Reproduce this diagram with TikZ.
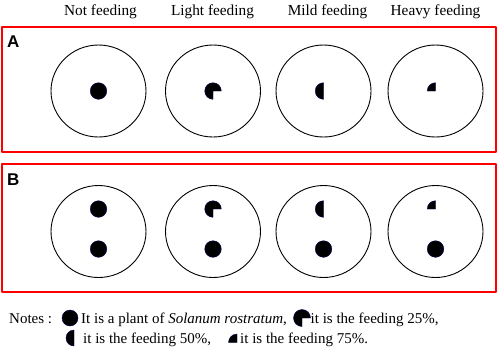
\documentclass[tikz,border=0pt]{standalone}
\usepackage{fontspec}
\setmainfont{Liberation Serif}
\newfontfamily\tagfont{Liberation Sans}
\usetikzlibrary{positioning,shapes.geometric}

\tikzset{
  panel/.style={draw=red, line width=1.2pt},
  dish/.style={ellipse, draw, line width=0.9pt, minimum width=95pt, minimum height=92pt, inner sep=0pt},
  plant/.style={fill=black, draw=blue!35!black, line width=0.4pt},
  head/.style={font=\fontsize{15.3}{18}\selectfont, anchor=base, inner sep=0pt},
  tag/.style={font=\tagfont\bfseries\fontsize{17}{20}\selectfont, anchor=base west, inner sep=0pt},
  note/.style={font=\fontsize{15}{18}\selectfont, anchor=base west, inner sep=0pt},
}

% #1 radius, #2 centre, #3/#4 start/end angle of the part still standing
% (angles negated because the y axis points down)
\newcommand{\feedpie}[4][8.3]{%
  \filldraw[plant] #2 -- ++(-#3:#1) arc[start angle=-#3, end angle=-#4, radius=#1] -- cycle;}

\begin{document}
\begin{tikzpicture}[x=1pt, y=-1pt, line join=round]

  %% ════ column heads ════
  \node[head] (hNot)   at (100.5,15) {Not feeding};
  \node[head] (hLight) at (212.5,15) {Light feeding};
  \node[head] (hMild)  at (327.5,15) {Mild feeding};
  \node[head] (hHeavy) at (435.5,15) {Heavy feeding};

  %% ════ panel frames ════
  \draw[panel] (2,27) rectangle (496,152);
  \draw[panel] (2,164) rectangle (496,292);
  \node[tag] (tagA) at (7,47) {A};
  \node[tag] (tagB) at (7,185) {B};

  %% ════ panel A: one plant per dish ════
  \node[dish] (dA1) at (98.5,91) {};
  \node[dish] (dA2) at (213,91) {};
  \node[dish] (dA3) at (323.5,91) {};
  \node[dish] (dA4) at (435.5,91) {};

  \feedpie{(dA1.center)}{0}{360}
  \feedpie{(dA2.center)}{0}{270}
  \feedpie{(dA3.center)}{90}{270}
  \feedpie{(dA4.center)}{90}{180}

  %% ════ panel B: two plants per dish ════
  \node[dish] (dB1) at (98.5,231.5) {};
  \node[dish] (dB2) at (213,231.5) {};
  \node[dish] (dB3) at (323.5,231.5) {};
  \node[dish] (dB4) at (435.5,231.5) {};

  \feedpie{([yshift=22.5pt]dB1.center)}{0}{360}
  \feedpie{([yshift=22.5pt]dB2.center)}{0}{270}
  \feedpie{([yshift=22.5pt]dB3.center)}{90}{270}
  \feedpie{([yshift=22.5pt]dB4.center)}{90}{180}

  % lower plant stays whole
  \feedpie{([yshift=-17.5pt]dB1.center)}{0}{360}
  \feedpie{([yshift=-17.5pt]dB2.center)}{0}{360}
  \feedpie{([yshift=-17.5pt]dB3.center)}{0}{360}
  \feedpie{([yshift=-17.5pt]dB4.center)}{0}{360}

  %% ════ notes ════
  \node[note] (nNotes) at (9,323) {Notes :};
  \feedpie[8]{(70,318)}{0}{360}
  \node[note] (nPlant) at (81,323) {It is a plant of \textit{Solanum rostratum},};
  \feedpie[8.5]{(302,318)}{0}{270}
  \node[note] (nLight) at (310.5,323) {it is the feeding 25\%,};

  \feedpie[8]{(74,338)}{90}{270}
  \node[note] (nMild) at (83,343) {it is the feeding 50\%,};
  \feedpie[8.5]{(237,342.5)}{90}{180}
  \node[note] (nHeavy) at (240,343) {it is the feeding 75\%.};

  \pgfresetboundingbox
  \path[use as bounding box] (0,0) rectangle (498,349);
\end{tikzpicture}
\end{document}
